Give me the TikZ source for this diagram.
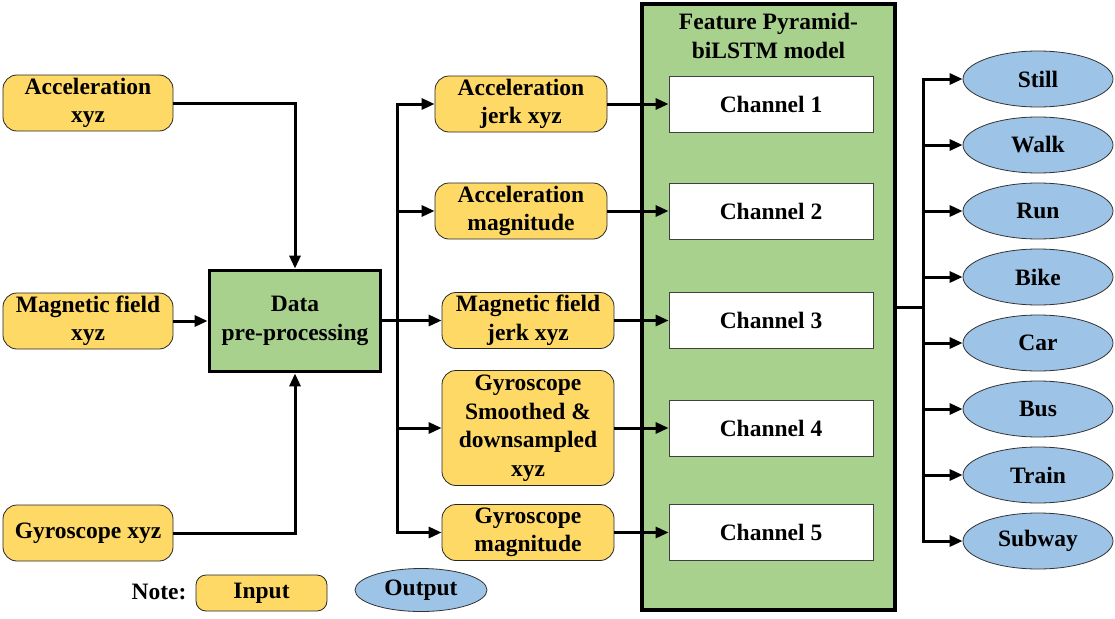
\documentclass[tikz,border=0pt]{standalone}
\usepackage{fontspec}
\setmainfont{Liberation Serif}
\usetikzlibrary{arrows.meta,shapes.geometric}
\definecolor{yelw}{RGB}{255,217,102}
\definecolor{grn}{RGB}{169,209,142}
\definecolor{blu}{RGB}{157,195,230}
\begin{document}
\begin{tikzpicture}[x=1pt,y=-1pt,
  every node/.style={font=\fontsize{23.5}{28.5}\selectfont\bfseries, align=center, inner sep=0pt},
  inbox/.style={draw=black!85, line width=0.8pt, fill=yelw, rounded corners=14pt, minimum width=170pt, minimum height=56pt},
  midbox/.style={inbox, minimum width=172pt},
  procbox/.style={draw=black, line width=3.8pt, fill=grn, minimum width=171pt, minimum height=101pt},
  modelbox/.style={draw=black, line width=3.8pt, fill=grn, minimum width=253pt, minimum height=606pt},
  chbox/.style={draw=black!75, line width=0.8pt, fill=white, minimum width=204pt, minimum height=56pt},
  outell/.style={ellipse, draw=black!80, line width=0.8pt, fill=blu, minimum width=150pt, minimum height=56pt},
  wire/.style={line width=3pt},
  conn/.style={wire, -{Triangle[length=13pt,width=11pt]}}
]
\useasboundingbox (0,0) rectangle (1115,618);
% inputs
\node[inbox] (acc) at (88,103) {Acceleration\\xyz};
\node[inbox] (mag) at (88,321) {Magnetic field\\xyz};
\node[inbox] (gyr) at (88,533) {Gyroscope xyz};
\node[procbox] (data) at (295,321) {Data\\pre-processing};
% middle
\node[midbox] (ajerk) at (521,104) {Acceleration\\jerk xyz};
\node[midbox] (amag) at (521,211) {Acceleration\\magnitude};
\node[midbox] (mjerk) at (528,320.5) {Magnetic field\\jerk xyz};
\node[midbox, minimum height=115pt] (gsm) at (528,428) {Gyroscope\\Smoothed \&\\downsampled\\xyz};
\node[midbox] (gmag) at (528,532.5) {Gyroscope\\magnitude};
% model
\node[modelbox] (fp) at (768.5,307) {};
\node (title) at (768.5,36) {Feature Pyramid-\\biLSTM model};
\node[chbox] (ch1) at (771,104) {Channel 1};
\node[chbox] (ch2) at (771,211) {Channel 2};
\node[chbox] (ch3) at (771,320.5) {Channel 3};
\node[chbox] (ch4) at (771,428) {Channel 4};
\node[chbox] (ch5) at (771,532.5) {Channel 5};
% outputs
\node[outell] (o1) at (1038,79) {Still};
\node[outell] (o2) at (1038,145) {Walk};
\node[outell] (o3) at (1038,211) {Run};
\node[outell] (o4) at (1038,277) {Bike};
\node[outell] (o5) at (1038,343) {Car};
\node[outell] (o6) at (1038,409) {Bus};
\node[outell] (o7) at (1038,475) {Train};
\node[outell] (o8) at (1038,541) {Subway};
% note
\node (note) at (159,592) {Note:};
\node[inbox, minimum width=131pt, minimum height=36pt, rounded corners=10pt] (kin) at (261.5,593) {Input};
\node[outell, minimum width=132pt, minimum height=43pt] (kout) at (421,590) {Output};
% connectors
\draw[conn] (acc.east) -| (data.north);
\draw[conn] (gyr.east) -| (data.south);
\draw[conn] (mag.east) -- (data.west);
\coordinate (bx) at (397,320.5);
\draw[wire] (data.east |- bx) -- (bx);
\draw[conn] (bx) |- (ajerk.west);
\draw[conn] (bx) |- (amag.west);
\draw[conn] (bx) -- (mjerk.west);
\draw[conn] (bx) |- (gsm.west);
\draw[conn] (bx) |- (gmag.west);
\draw[conn] (ajerk.east) -- (ch1.west);
\draw[conn] (amag.east) -- (ch2.west);
\draw[conn] (mjerk.east) -- (ch3.west);
\draw[conn] (gsm.east) -- (ch4.west);
\draw[conn] (gmag.east) -- (ch5.west);
\coordinate (ob) at (923,307);
\draw[wire] (fp.east) -- (ob);
\foreach \o in {o1,o2,o3,o4,o5,o6,o7,o8}{\draw[conn] (ob) |- (\o.west);}
\end{tikzpicture}
\end{document}
